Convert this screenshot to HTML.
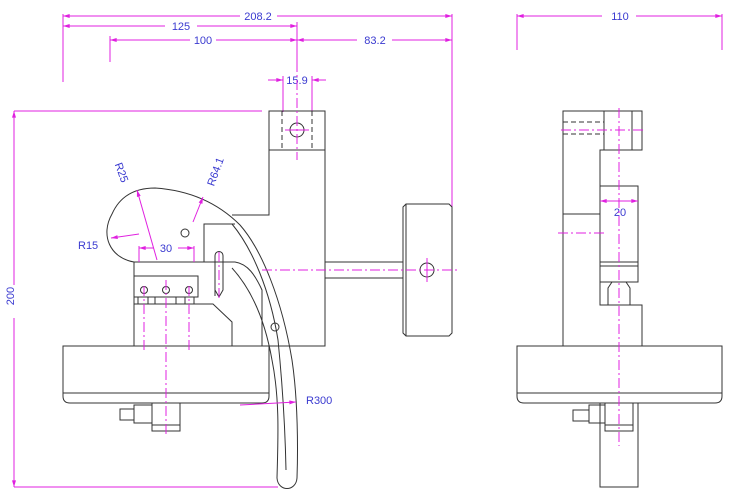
<!DOCTYPE html>
<html><head><meta charset="utf-8"><style>
html,body{margin:0;padding:0;background:#fff;}
svg{display:block;}
text{font-family:"Liberation Sans",sans-serif;font-size:11px;fill:#3a3ad0;}
.o{fill:none;stroke:#333;stroke-width:1;}
.d{fill:none;stroke:#e020e0;stroke-width:1;}
.c{fill:none;stroke:#e020e0;stroke-width:1;stroke-dasharray:10,3,2,3;}
.h{fill:none;stroke:#333;stroke-width:1;stroke-dasharray:5,3;}
</style></head><body>
<svg width="736" height="503" viewBox="0 0 736 503" xmlns="http://www.w3.org/2000/svg">
<defs><marker id="a" viewBox="0 0 10 6" refX="10" refY="3" markerWidth="8" markerHeight="4" orient="auto-start-reverse"><path d="M0,0 L10,3 L0,6z" fill="#e020e0"/></marker></defs>
<!-- dims left -->
<line class="d" x1="63" y1="16" x2="240" y2="16" marker-start="url(#a)"/><line class="d" x1="277" y1="16" x2="452" y2="16" marker-end="url(#a)"/>
<text x="258" y="20" text-anchor="middle">208.2</text>
<line class="d" x1="63" y1="26" x2="165" y2="26" marker-start="url(#a)"/><line class="d" x1="197" y1="26" x2="297" y2="26" marker-end="url(#a)"/>
<text x="181" y="30" text-anchor="middle">125</text>
<line class="d" x1="110" y1="40" x2="190" y2="40" marker-start="url(#a)"/><line class="d" x1="216" y1="40" x2="297" y2="40" marker-end="url(#a)"/>
<text x="203" y="44" text-anchor="middle">100</text>
<line class="d" x1="297" y1="40" x2="357" y2="40" marker-start="url(#a)"/><line class="d" x1="392" y1="40" x2="452" y2="40" marker-end="url(#a)"/>
<text x="375" y="44" text-anchor="middle">83.2</text>
<line class="d" x1="63" y1="14" x2="63" y2="82"/><line class="d" x1="110" y1="36" x2="110" y2="62"/>
<line class="d" x1="297" y1="22" x2="297" y2="62"/><line class="d" x1="452" y1="14" x2="452" y2="270"/>
<line class="d" x1="268" y1="80" x2="283" y2="80" marker-end="url(#a)"/><line class="d" x1="326" y1="80" x2="312" y2="80" marker-end="url(#a)"/>
<text x="297" y="84" text-anchor="middle">15.9</text>
<line class="d" x1="283" y1="76" x2="283" y2="112"/><line class="d" x1="312" y1="76" x2="312" y2="112"/>
<line class="d" x1="14" y1="111" x2="262" y2="111"/><line class="d" x1="14" y1="487" x2="278" y2="487"/>
<line class="d" x1="14" y1="111" x2="14" y2="285" marker-start="url(#a)"/><line class="d" x1="14" y1="318" x2="14" y2="487" marker-end="url(#a)"/>
<text x="18" y="300" text-anchor="middle" transform="rotate(-90 14 300)">200</text>
<!-- top block & column -->
<rect class="o" x="269" y="111" width="56" height="39"/>
<line class="h" x1="282" y1="111" x2="282" y2="150"/><line class="h" x1="312" y1="111" x2="312" y2="150"/>
<circle class="o" cx="297" cy="130" r="7"/>
<line class="c" x1="297" y1="62" x2="297" y2="160"/><line class="d" x1="285" y1="130" x2="309" y2="130"/>
<polyline class="o" points="269,150 269,215 232,215"/>
<polyline class="o" points="325,150 325,346 269,346"/>
<!-- teardrop + handle -->
<path class="o" d="M134,262 C110,258 100,235 112,214 C120,196 135,188 155,188 C185,190 215,200 240,225 C262,250 282,300 292,360 C298,400 298,450 297,478 C296,492 278,492 277,478 C278,440 280,400 272,360 C265,320 252,290 232,268"/>
<path class="o" d="M232,224 C252,248 270,290 278,340 C282,380 285,420 286,470"/>
<!-- block -->
<polyline class="o" points="204,262 204,224 235,224"/>
<path class="o" d="M134,346 L134,262 L235,262 C248,264 255,275 262,290 L262,346"/>
<rect class="o" x="134" y="276" width="64" height="21"/>
<circle class="o" cx="144" cy="290" r="3.5"/><circle class="o" cx="166" cy="290" r="3.5"/><circle class="o" cx="189" cy="290" r="3.5"/>
<line class="o" x1="138" y1="297" x2="138" y2="304"/><line class="o" x1="148" y1="297" x2="148" y2="304"/>
<line class="o" x1="185" y1="297" x2="185" y2="304"/><line class="o" x1="194" y1="297" x2="194" y2="304"/>
<path class="o" d="M155,304 L155,297 L176,297 L176,304"/>
<polyline class="o" points="134,304 213,304 232,322 232,346"/>
<path class="o" d="M215,296 L215,256 C215,250 223,250 223,256 L223,290 L219,297 L215,290"/>
<line class="c" x1="219" y1="252" x2="219" y2="298"/>
<circle class="o" cx="185" cy="233" r="4"/><circle class="o" cx="275" cy="327" r="4"/>
<!-- base -->
<path class="o" d="M63,346 L269,346 L269,396 Q269,403 262,403 L70,403 Q63,403 63,396 Z"/>
<line class="o" x1="63" y1="393" x2="269" y2="393"/>
<!-- fitting -->
<rect class="o" x="152" y="403" width="28" height="22"/><rect class="o" x="152" y="425" width="28" height="6"/>
<rect class="o" x="134" y="405" width="18" height="18"/><rect class="o" x="120" y="409" width="14" height="11"/>
<line class="c" x1="166" y1="280" x2="166" y2="436"/>
<line class="c" x1="144" y1="286" x2="144" y2="350"/><line class="c" x1="189" y1="286" x2="189" y2="350"/>
<!-- shaft & wheel -->
<rect class="o" x="325" y="262" width="78" height="16"/>
<path class="o" d="M403,207 L406,204 L449,204 L452,207 L452,333 L449,336 L406,336 L403,333 Z"/>
<line class="o" x1="406" y1="204" x2="406" y2="336"/>
<circle class="o" cx="427" cy="270" r="7"/>
<line class="c" x1="262" y1="270" x2="460" y2="270"/><line class="d" x1="427" y1="258" x2="427" y2="282"/>
<!-- small dims -->
<line class="d" x1="139" y1="248" x2="154" y2="248" marker-start="url(#a)"/><line class="d" x1="178" y1="248" x2="194" y2="248" marker-end="url(#a)"/>
<text x="166" y="252" text-anchor="middle">30</text>
<line class="d" x1="139" y1="246" x2="139" y2="262"/><line class="d" x1="194" y1="246" x2="194" y2="262"/>
<line class="d" x1="157" y1="260" x2="137" y2="190" marker-end="url(#a)"/>
<line class="d" x1="193" y1="222" x2="203" y2="197" marker-end="url(#a)"/>
<line class="d" x1="139" y1="234" x2="111" y2="238" marker-end="url(#a)"/>
<text x="112" y="168" transform="rotate(70 116 168)">R25</text>
<text x="205" y="186" transform="rotate(-70 210 180)">R64.1</text>
<text x="78" y="249">R15</text>
<line class="d" x1="240" y1="405" x2="296" y2="402" marker-end="url(#a)"/>
<text x="306" y="404">R300</text>
<!-- right view -->
<line class="d" x1="517" y1="16" x2="602" y2="16" marker-start="url(#a)"/><line class="d" x1="636" y1="16" x2="722" y2="16" marker-end="url(#a)"/>
<text x="620" y="20" text-anchor="middle">110</text>
<line class="d" x1="517" y1="14" x2="517" y2="50"/><line class="d" x1="722" y1="14" x2="722" y2="50"/>
<polyline class="o" points="563,346 563,111 642,111 642,150 600,150 600,186"/>
<line class="o" x1="604" y1="111" x2="604" y2="150"/><line class="o" x1="632" y1="111" x2="632" y2="150"/>
<line class="h" x1="563" y1="122" x2="604" y2="122"/><line class="h" x1="563" y1="134" x2="604" y2="134"/>
<line class="c" x1="561" y1="130" x2="646" y2="130"/>
<rect class="o" x="600" y="186" width="38" height="76"/>
<line class="o" x1="563" y1="214" x2="600" y2="214"/>
<line class="c" x1="558" y1="233" x2="607" y2="233"/>
<line class="d" x1="600" y1="201" x2="638" y2="201" marker-start="url(#a)" marker-end="url(#a)"/>
<text x="620" y="216" text-anchor="middle">20</text>
<rect class="o" x="600" y="262" width="38" height="20"/><line class="o" x1="600" y1="266" x2="638" y2="266"/>
<path class="o" d="M608,305 L608,288 L612,282 L626,282 L630,288 L630,305"/>
<polyline class="o" points="600,262 600,305 642,305 642,346"/>
<path class="o" d="M517,346 L722,346 L722,396 Q722,403 715,403 L524,403 Q517,403 517,396 Z"/>
<line class="o" x1="517" y1="393" x2="722" y2="393"/>
<rect class="o" x="600" y="403" width="38" height="84"/>
<rect class="o" x="605" y="403" width="28" height="22"/><rect class="o" x="605" y="425" width="28" height="6"/>
<rect class="o" x="589" y="405" width="16" height="18"/><rect class="o" x="573" y="410" width="16" height="11"/>
<line class="c" x1="619" y1="108" x2="619" y2="446"/>
</svg>
</body></html>
